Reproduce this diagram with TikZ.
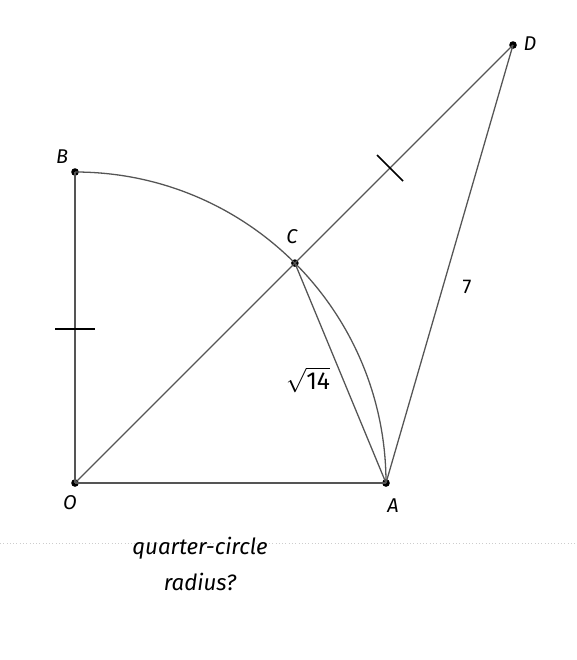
\documentclass[tikz,border=0pt]{standalone}
\usepackage{fontspec}
\usepackage{tikz}
\usetikzlibrary{positioning, calc}
\newfontfamily\handfont{Fira Sans}
\definecolor{linegray}{RGB}{85,85,85}
\definecolor{rulegray}{RGB}{205,205,205}

\begin{document}
\begin{tikzpicture}[
    x=0.03cm, y=-0.03cm,
    seg/.style={draw=linegray, line width=1.1pt},
    tick/.style={draw=black, line width=1.4pt},
    dot/.style={circle, fill=black, inner sep=0pt, minimum size=6.5pt},
    ptlabel/.style={font=\handfont\itshape\fontsize{17}{19}\selectfont, inner sep=1pt},
    note/.style={font=\handfont\itshape\fontsize{19}{22}\selectfont, inner sep=0pt}
]
    \useasboundingbox (0,0) rectangle (576,660);

    % Points
    \node[dot] (O) at (75,483) {};
    \node[dot] (A) at (386,483) {};
    \node[dot] (B) at (75,172) {};
    \node[dot] (C) at ($(O)+(45:311*0.03cm)$) {};
    \node[dot] (D) at (513,45) {};

    % Quarter circle and segments
    \draw[seg] (B.center) arc[start angle=90, end angle=0, radius=311*0.03cm];
    \draw[seg] (O.center) -- (A.center);
    \draw[seg] (O.center) -- (B.center);
    \draw[seg] (O.center) -- (D.center);
    \draw[seg] (C.center) -- (A.center);
    \draw[seg] (A.center) -- (D.center);

    % Equal marks
    \coordinate (m1) at (75,329);
    \coordinate (m2) at (390,168);
    \draw[tick] ($(m1)+(-20,0)$) -- ($(m1)+(20,0)$);
    \draw[tick] ($(m2)+(-13,-13)$) -- ($(m2)+(13,13)$);

    % Labels
    \node[ptlabel] (lB) at (62,157) {B};
    \node[ptlabel] (lC) at (292,237) {C};
    \node[ptlabel] (lD) at (530,44) {D};
    \node[ptlabel] (lO) at (70,503) {O};
    \node[ptlabel] (lA) at (393,506) {A};
    \node[font=\handfont\fontsize{17}{19}\selectfont] (len7) at (467,287) {7};
    \node[font=\fontsize{21}{24}\selectfont] (lenC) at (308,380) {$\sqrt{\mbox{\handfont 14}}$};

    % Question
    \draw[rulegray, line width=0.8pt, dotted] (0,543) -- (576,543);
    \node[note] (q1) at (200,548) {quarter-circle};
    \node[note, below=0.4cm of q1] (q2) {radius?};
\end{tikzpicture}
\end{document}
